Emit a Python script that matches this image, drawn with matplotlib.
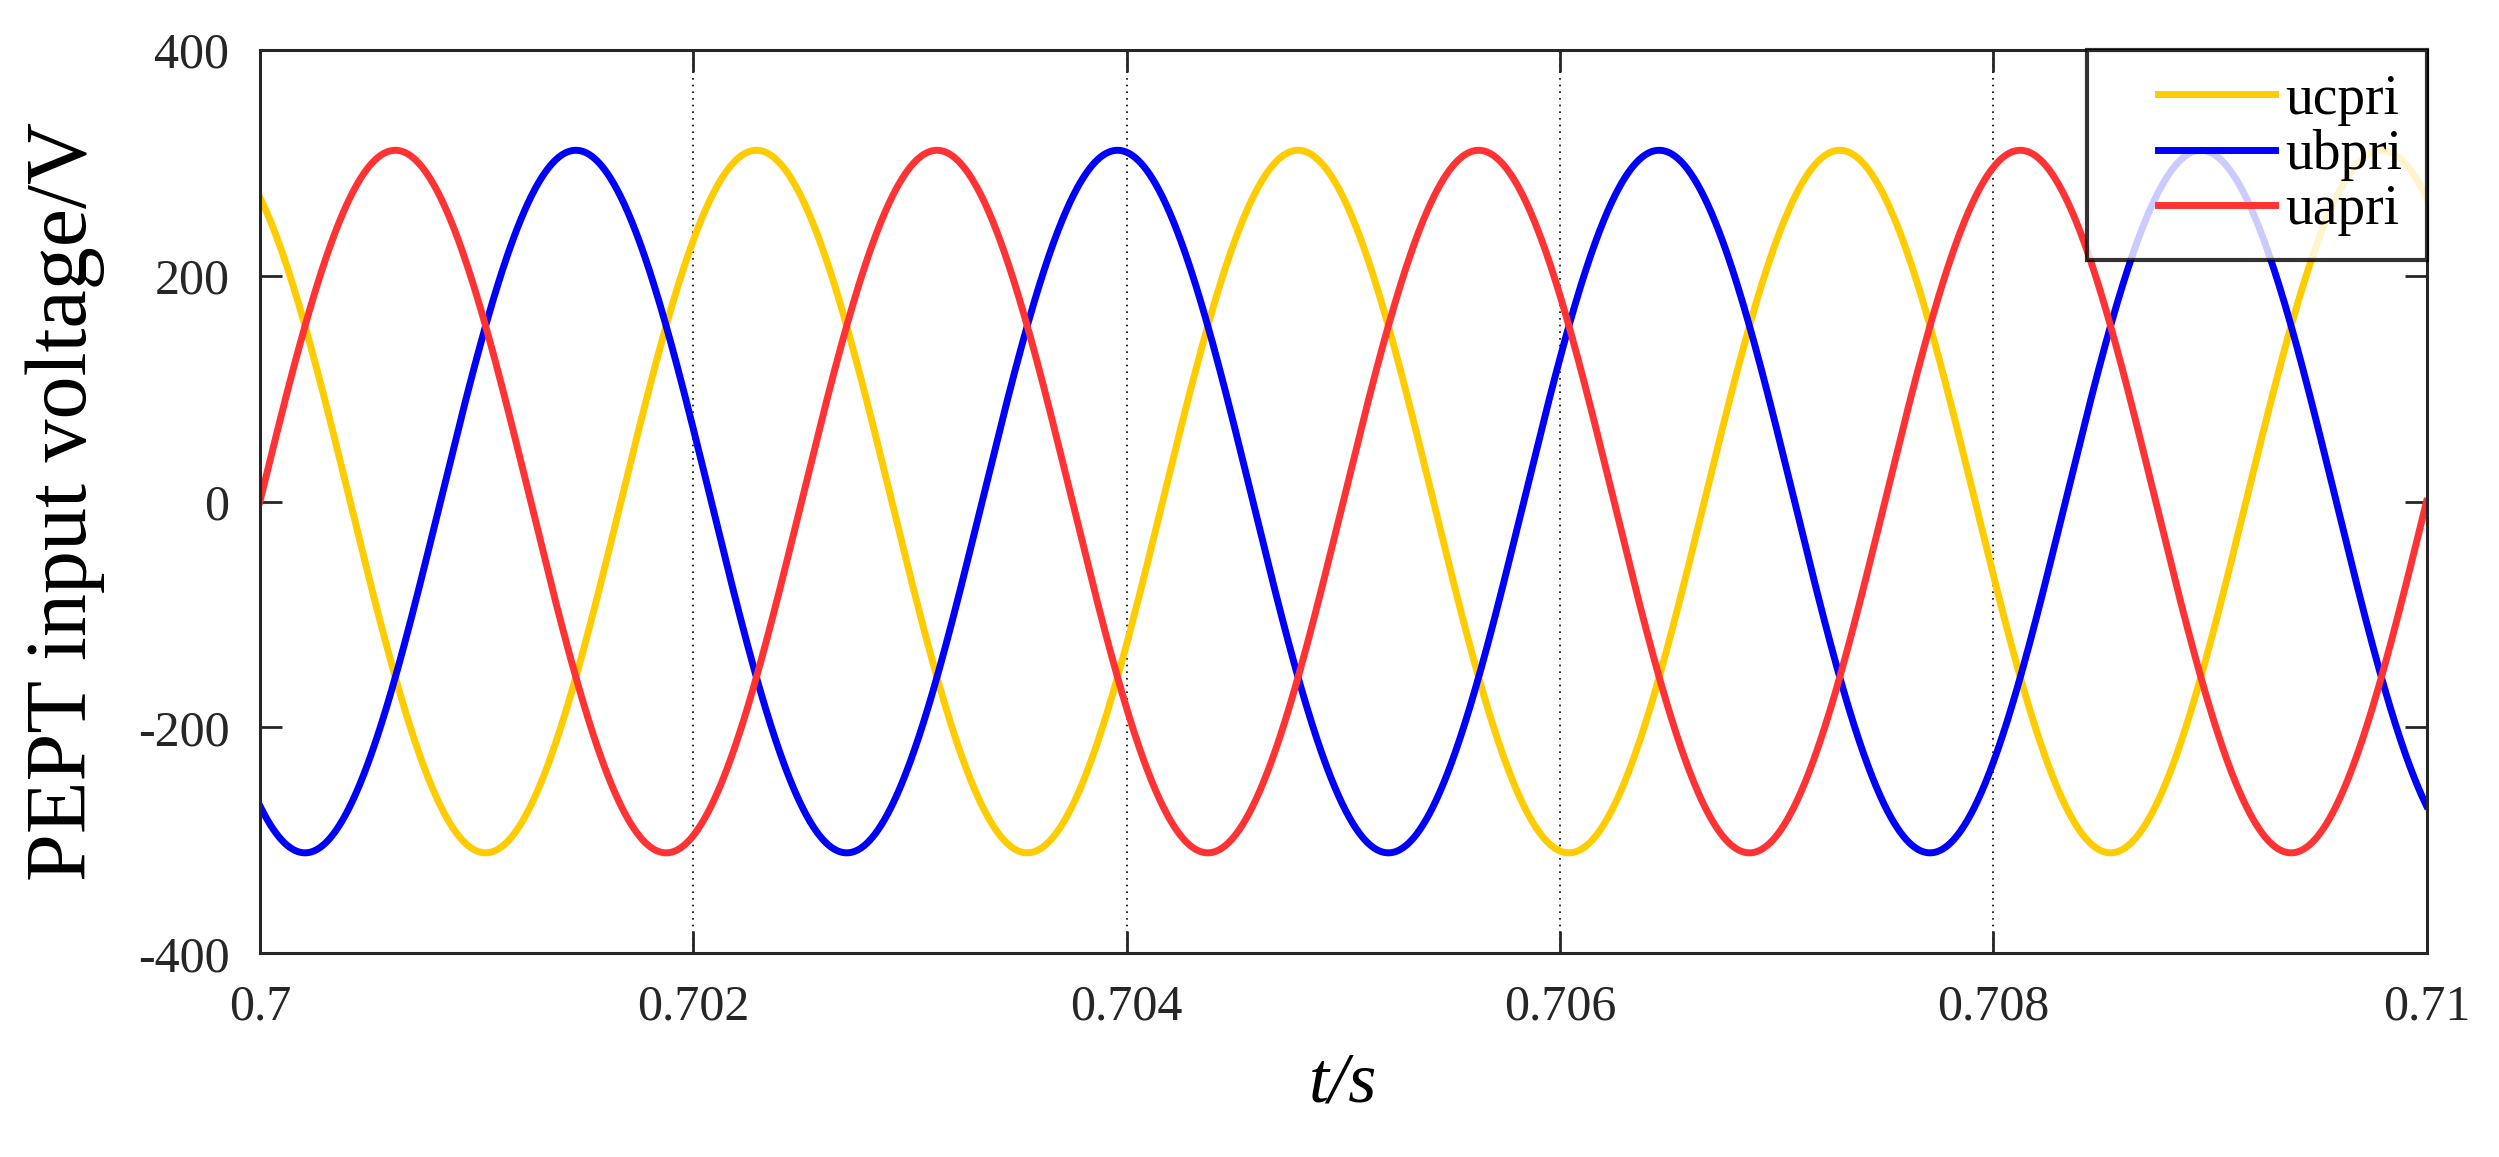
import matplotlib
matplotlib.use("Agg")
import matplotlib.pyplot as plt
from matplotlib.legend_handler import HandlerLine2D
import numpy as np

# three-phase PEPT primary voltages
series_names = ["ucpri", "ubpri", "uapri"]
series_colors = ["#FFCC00", "#0000FF", "#FF3333"]
amplitude_v = [311, 311, 311]
frequency_hz = [400, 400, 400]
phase_deg = [120, -120, 0]

t_start, t_end = 0.7, 0.71
x_ticks = [0.7, 0.702, 0.704, 0.706, 0.708, 0.71]
x_tick_labels = ["0.7", "0.702", "0.704", "0.706", "0.708", "0.71"]
y_ticks = [-400, -200, 0, 200, 400]

plt.rcParams["font.family"] = ["Liberation Serif", "DejaVu Serif"]
plt.rcParams["axes.unicode_minus"] = False

fig = plt.figure(figsize=(24.99, 11.57), dpi=100)
ax = fig.add_axes([0.104, 0.176, 0.867, 0.781])

t = np.linspace(t_start, t_end, 4001)
for name, col, amp, f, ph in zip(series_names, series_colors, amplitude_v, frequency_hz, phase_deg):
    u = amp * np.sin(2 * np.pi * f * (t - t_start) + np.deg2rad(ph))
    ax.plot(t, u, color=col, lw=5, label=name)

ax.set_xlim(t_start, t_end)
ax.set_ylim(-400, 400)
ax.set_xticks(x_ticks)
ax.set_xticklabels(x_tick_labels)
ax.set_yticks(y_ticks)

ax.xaxis.grid(True, linestyle=(0, (1, 3)), color="black", lw=1.2)
ax.tick_params(direction="in", length=16, width=2, labelsize=36,
               top=True, right=True, colors="#262626", pad=22)
for sp in ax.spines.values():
    sp.set_linewidth(2.2)
    sp.set_color("#262626")

ax.set_ylabel("PEPT input voltage/V", fontsize=62, va="center")
ax.yaxis.set_label_coords(-0.09, 0.5)
ax.set_xlabel("t/s", fontsize=52, style="italic", va="center")
ax.xaxis.set_label_coords(0.5, -0.145)

# wide frame like the MATLAB legend
leg = ax.legend(loc="upper right", fontsize=40, frameon=True, fancybox=False,
                borderaxespad=0, handlelength=2.95, handletextpad=0.2,
                labelspacing=0.06, borderpad=0.43,
                handler_map={plt.Line2D: HandlerLine2D(xpad=0.85)})
leg.get_frame().set_edgecolor("black")
leg.get_frame().set_linewidth(3)

plt.savefig("out.png", dpi=100)
